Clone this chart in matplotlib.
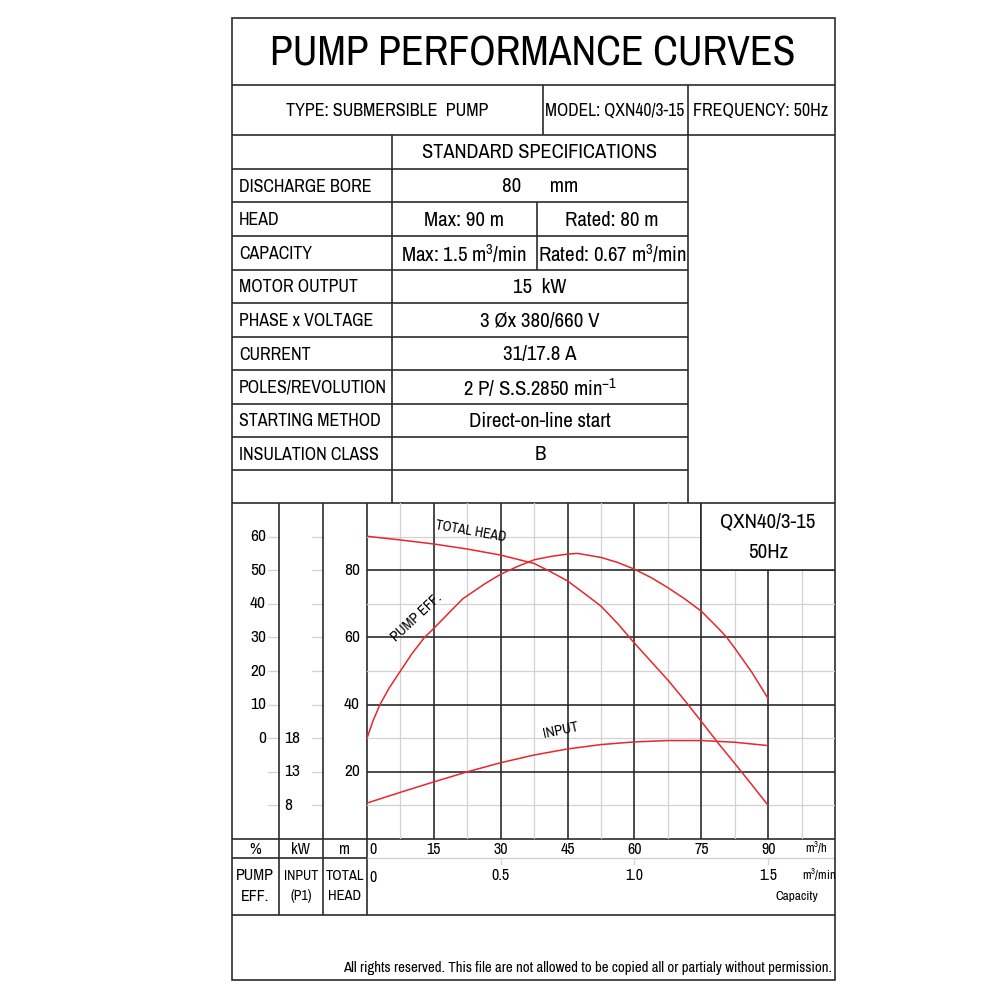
import matplotlib
matplotlib.use('Agg')
import matplotlib.pyplot as plt
import matplotlib.transforms as mtransforms
from matplotlib import font_manager
from matplotlib.patches import Rectangle

# ─────────────────────────────────────────────
# Data (capacity in m3/h)
# ─────────────────────────────────────────────
HEAD_Q = [0, 7.5, 15, 22.5, 30, 37.5, 41.25, 45, 48.75, 52.5, 56.25, 60, 63.75,
          67.5, 71.25, 75, 78.75, 82.5, 86.25, 90]
HEAD_M = [90.1, 89.0, 87.8, 86.3, 84.5, 82.0, 79.5, 76.8, 73.1, 69.3, 64.1, 58.3,
          52.8, 47.3, 41.3, 35.0, 28.6, 22.5, 16.3, 10.0]

EFF_Q = [0, 1.3, 2.9, 5, 7.5, 10, 12.9, 15, 18.75, 21.5, 26.25, 30, 33.75, 37.5,
         41.25, 45, 47.25, 52.5, 56.25, 60, 63.75, 67.5, 71.25, 75, 78.75, 80.6,
         82.5, 86.25, 90]
EFF_PCT = [0, 5.0, 10.0, 15.0, 20.0, 25.0, 30.0, 32.7, 37.8, 41.5, 45.8, 48.8,
           51.1, 53.1, 54.1, 54.8, 55.0, 53.8, 52.3, 50.3, 47.8, 44.8, 41.5, 37.8,
           32.8, 30.2, 26.8, 19.8, 11.8]

INPUT_Q = [0, 7.5, 15, 22.5, 30, 37.5, 45, 52.5, 60, 67.5, 75, 82.5, 90]
INPUT_KW = [8.35, 9.95, 11.5, 13.0, 14.35, 15.5, 16.4, 17.05, 17.45, 17.65,
            17.65, 17.4, 16.9]

Q_TICKS = [0, 15, 30, 45, 60, 75, 90]
QMIN_TICKS = [0.5, 1.0, 1.5]
HEAD_TICKS = [20, 40, 60, 80]
EFF_TICKS = [0, 10, 20, 30, 40, 50, 60]
KW_TICKS = [8, 13, 18]

TABLE_ROWS = [
    ('DISCHARGE BORE', '80      mm', None),
    ('HEAD', 'Max: 90 m', 'Rated: 80 m'),
    ('CAPACITY', 'Max: 1.5 m$^3$/min', 'Rated: 0.67 m$^3$/min'),
    ('MOTOR OUTPUT', '15  kW', None),
    ('PHASE x VOLTAGE', '3 Øx 380/660 V', None),
    ('CURRENT', '31/17.8 A', None),
    ('POLES/REVOLUTION', '2 P/ S.S.2850 min$^{-1}$', None),
    ('STARTING METHOD', 'Direct-on-line start', None),
    ('INSULATION CLASS', 'B', None),
    ('', '', None),
]


# secondary scales share the head axis (m)
def eff_to_head(e):
    return e + 30


def kw_to_head(k):
    return (k - 3) * 2


# ─────────────────────────────────────────────
# Fonts: a narrow grotesque if there is one
# ─────────────────────────────────────────────
names = {f.name for f in font_manager.fontManager.ttflist}
NARROW = next((n for n in ('Liberation Sans Narrow', 'Archivo Narrow', 'Roboto Condensed')
               if n in names), 'DejaVu Sans')
plt.rcParams['font.family'] = [NARROW, 'DejaVu Sans']
plt.rcParams['font.stretch'] = 'condensed'
plt.rcParams['mathtext.fontset'] = 'custom'
plt.rcParams['mathtext.rm'] = NARROW
plt.rcParams['mathtext.it'] = NARROW
plt.rcParams['mathtext.bf'] = NARROW

DARK = '#2b2b2b'
LIGHT = '#d2d2d2'
RED = '#e8262d'
LW = 1.2
FS_LABEL = 12.9   # left column of the table
FS_VALUE = 15     # value columns

fig = plt.figure(figsize=(10, 10), dpi=100)
fig.patch.set_facecolor('white')

# page axes in pixel coordinates
pg = fig.add_axes([0, 0, 1, 1])
pg.set_xlim(0, 1000)
pg.set_ylim(1000, 0)
pg.axis('off')


def hline(y, x0, x1, color=DARK, lw=LW):
    pg.plot([x0, x1], [y, y], color=color, lw=lw, solid_capstyle='butt', zorder=2)


def vline(x, y0, y1, color=DARK, lw=LW):
    pg.plot([x, x], [y0, y1], color=color, lw=lw, solid_capstyle='butt', zorder=2)


# outer border
pg.add_patch(Rectangle((232, 18), 603, 962, fill=False, ec=DARK, lw=LW, zorder=3))

# title + header
pg.text(533, 54, 'PUMP PERFORMANCE CURVES', fontsize=30, ha='center', va='center')
hline(85, 232, 835)
pg.text(387, 111, 'TYPE: SUBMERSIBLE  PUMP', fontsize=13, ha='center', va='center')
pg.text(615, 111, 'MODEL: QXN40/3-15', fontsize=12.6, ha='center', va='center')
pg.text(761, 111, 'FREQUENCY: 50Hz', fontsize=13, ha='center', va='center')
vline(543, 85, 135)
vline(688, 85, 135)
hline(135, 232, 835)

# specification table
pg.text(540, 153, 'STANDARD SPECIFICATIONS', fontsize=14.7, ha='center', va='center')
row_edges = [169, 202, 236, 270, 303, 337, 370, 404, 437, 470, 503]
for y in row_edges[:-1]:
    hline(y, 232, 688)
vline(392, 135, 503)
vline(688, 135, 503)
for i, (label, val, val2) in enumerate(TABLE_ROWS):
    yc = (row_edges[i] + row_edges[i + 1]) / 2 + 1
    if label:
        pg.text(239, yc, label, fontsize=FS_LABEL, ha='left', va='center')
    if val2 is None:
        pg.text(540, yc, val, fontsize=FS_VALUE, ha='center', va='center')
    else:
        pg.text(464, yc, val, fontsize=FS_VALUE, ha='center', va='center')
        pg.text(612, yc, val2, fontsize=FS_VALUE, ha='center', va='center')
        vline(537, row_edges[i], row_edges[i + 1])
hline(503, 232, 835)

# chart frame columns
for x in (279, 323, 367):
    vline(x, 503, 915)
hline(839, 232, 835)
hline(858, 232, 367)
hline(858, 367, 835, color=LIGHT, lw=1.0)
hline(915, 232, 835)

# ─────────────────────────────────────────────
# Performance plot
# ─────────────────────────────────────────────
ax = fig.add_axes([0.367, 0.161, 0.468, 0.336])
ax.set_xlim(0, 105)
ax.set_ylim(0, 100)
ax.axis('off')

for q in [7.5 + 15 * i for i in range(7)]:
    ax.plot([q, q], [0, 100], color=LIGHT, lw=0.9, zorder=1)
for h in range(10, 100, 20):
    ax.plot([0, 105], [h, h], color=LIGHT, lw=0.9, zorder=1)
for q in Q_TICKS[1:]:
    ax.plot([q, q], [0, 100], color=DARK, lw=LW, zorder=2)
for h in HEAD_TICKS:
    ax.plot([0, 105], [h, h], color=DARK, lw=LW, zorder=2)

# model box in the top right corner
ax.add_patch(Rectangle((75, 80), 30, 20, fc='white', ec=DARK, lw=LW, zorder=3))
ax.text(90, 94.3, 'QXN40/3-15', fontsize=15, ha='center', va='center', zorder=4)
ax.text(90, 85.3, '50Hz', fontsize=15, ha='center', va='center', zorder=4)

ax.plot(HEAD_Q, HEAD_M, color=RED, lw=1.1, zorder=5)
ax.plot(EFF_Q, [eff_to_head(e) for e in EFF_PCT], color=RED, lw=1.1, zorder=5)
ax.plot(INPUT_Q, [kw_to_head(k) for k in INPUT_KW], color=RED, lw=1.1, zorder=5)

ax.text(23.3, 91.7, 'TOTAL HEAD', fontsize=10, rotation=-10, ha='center', va='center', zorder=6)
ax.text(11.2, 66, 'PUMP EFF.', fontsize=10.5, rotation=43, ha='center', va='center', zorder=6)
ax.text(43.5, 32.3, 'INPUT', fontsize=10.5, rotation=12, ha='center', va='center', zorder=6)

# side scales: x in page pixels, y in head units
side = mtransforms.blended_transform_factory(pg.transData, ax.transData)
for h in range(10, 100, 10):
    pg.plot([268, 279], [h, h], transform=side, color=LIGHT, lw=0.9, zorder=1)
    pg.plot([312, 323], [h, h], transform=side, color=LIGHT, lw=0.9, zorder=1)
for e in EFF_TICKS:
    pg.text(266, eff_to_head(e), str(e), transform=side, fontsize=12.5, ha='right', va='center')
for k in KW_TICKS:
    pg.text(284, kw_to_head(k), str(k), transform=side, fontsize=12.5, ha='left', va='center')
for h in HEAD_TICKS:
    pg.text(360, h, str(h), transform=side, fontsize=12.5, ha='right', va='center')

# capacity scales: x in m3/h, y in page pixels
bottom = mtransforms.blended_transform_factory(ax.transData, pg.transData)
for q in Q_TICKS:
    xq = q + 1.4 if q == 0 else q
    pg.text(xq, 849, str(q), transform=bottom, fontsize=11.5, ha='center', va='center')
pg.text(100.9, 848, 'm$^3$/h', transform=bottom, fontsize=9, ha='center', va='center')
pg.text(1.4, 877, '0', transform=bottom, fontsize=11.5, ha='center', va='center')
for qm in QMIN_TICKS:
    pg.plot([qm * 60, qm * 60], [858, 864], transform=bottom, color=LIGHT, lw=0.9)
    pg.text(qm * 60, 876, f'{qm:.1f}', transform=bottom, fontsize=11.5, ha='center', va='center')
pg.text(101.4, 875, 'm$^3$/min', transform=bottom, fontsize=9, ha='center', va='center')
pg.text(96.5, 896, 'Capacity', transform=bottom, fontsize=9.5, ha='center', va='center')

# unit labels
pg.text(255, 849, '%', fontsize=11.5, ha='center', va='center')
pg.text(301, 849, 'kW', fontsize=11.5, ha='center', va='center')
pg.text(345, 849, 'm', fontsize=11.5, ha='center', va='center')
pg.text(255, 886, 'PUMP\nEFF.', fontsize=11.5, ha='center', va='center', linespacing=1.45)
pg.text(301, 886, 'INPUT\n(P1)', fontsize=10, ha='center', va='center', linespacing=1.6)
pg.text(345, 886, 'TOTAL\nHEAD', fontsize=10.5, ha='center', va='center', linespacing=1.55)

pg.text(832, 968, 'All rights reserved. This file are not allowed to be copied all or '
        'partialy without permission.', fontsize=10.7, ha='right', va='center')

fig.savefig('out.png', dpi=100, facecolor='white')
